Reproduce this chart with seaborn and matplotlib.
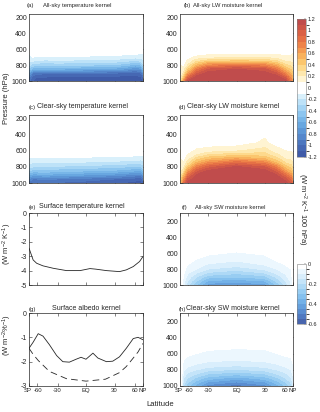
"""Zonal-mean radiative kernels: pressure-latitude sections and surface kernels."""
import numpy as np
import pandas as pd
import seaborn as sns
import matplotlib
matplotlib.use("Agg")
import matplotlib.pyplot as plt
from matplotlib.colors import ListedColormap, BoundaryNorm
from matplotlib.cm import ScalarMappable
from matplotlib.transforms import ScaledTranslation

nan = np.nan

# latitude nodes and pressure levels of the kernel tables
lat = [-90, -80, -70, -60, -45, -30, 0, 30, 45, 60, 75, 90]
plev = [1000, 950, 900, 850, 800, 750, 700, 650, 600, 500, 150]

# one profile (1000 -> 150 hPa) per latitude node, W m-2 K-1 100hPa-1
t_all = [
    [nan, nan, -0.9, -0.6, -0.45, -0.35, -0.28, -0.2, -0.14, -0.05, 0],
    [-1.0, -0.9, -0.7, -0.45, -0.3, -0.2, -0.13, -0.08, -0.05, -0.02, 0],
    [-1.1, -1.05, -0.9, -0.55, -0.35, -0.2, -0.1, -0.05, -0.03, -0.01, 0],
    [-1.15, -1.1, -0.95, -0.6, -0.38, -0.22, -0.11, -0.05, -0.03, -0.01, 0],
    [-1.15, -1.1, -0.98, -0.6, -0.4, -0.24, -0.12, -0.05, -0.03, -0.01, 0],
    [-1.15, -1.12, -0.98, -0.6, -0.38, -0.22, -0.11, -0.05, -0.03, -0.01, 0],
    [-1.15, -1.12, -0.98, -0.62, -0.4, -0.25, -0.12, -0.05, -0.03, -0.01, 0],
    [-1.15, -1.12, -1.0, -0.65, -0.42, -0.26, -0.13, -0.06, -0.03, -0.01, 0],
    [-1.18, -1.15, -1.02, -0.72, -0.48, -0.3, -0.15, -0.07, -0.04, -0.01, 0],
    [-1.18, -1.15, -1.05, -0.8, -0.55, -0.33, -0.17, -0.08, -0.04, -0.02, 0],
    [-1.15, -1.1, -1.0, -0.75, -0.5, -0.3, -0.16, -0.09, -0.05, -0.02, 0],
    [-1.1, -1.0, -0.8, -0.55, -0.36, -0.24, -0.16, -0.11, -0.06, -0.02, 0],
]
t_clr = [
    [nan, nan, -0.85, -0.55, -0.4, -0.3, -0.24, -0.18, -0.12, -0.04, 0],
    [-0.95, -0.85, -0.6, -0.4, -0.27, -0.18, -0.12, -0.07, -0.04, -0.01, 0],
    [-1.0, -0.9, -0.65, -0.45, -0.3, -0.2, -0.12, -0.06, -0.03, -0.01, 0],
    [-1.0, -0.9, -0.65, -0.45, -0.32, -0.2, -0.12, -0.06, -0.03, -0.01, 0],
    [-1.0, -0.88, -0.62, -0.44, -0.3, -0.2, -0.12, -0.06, -0.03, -0.01, 0],
    [-1.02, -0.9, -0.66, -0.47, -0.32, -0.2, -0.12, -0.06, -0.03, -0.01, 0],
    [-1.05, -0.95, -0.7, -0.5, -0.35, -0.22, -0.13, -0.06, -0.03, -0.01, 0],
    [-1.1, -1.0, -0.75, -0.53, -0.37, -0.24, -0.14, -0.07, -0.03, -0.01, 0],
    [-1.12, -1.02, -0.8, -0.57, -0.4, -0.26, -0.15, -0.07, -0.04, -0.01, 0],
    [-1.15, -1.05, -0.85, -0.6, -0.42, -0.28, -0.16, -0.08, -0.04, -0.02, 0],
    [-1.15, -1.05, -0.85, -0.6, -0.42, -0.28, -0.17, -0.09, -0.05, -0.02, 0],
    [-1.05, -0.95, -0.75, -0.5, -0.35, -0.24, -0.16, -0.1, -0.06, -0.02, 0],
]
q_lw_all = [
    [nan, nan, 0.2, 0.18, 0.17, 0.16, 0.15, 0.13, 0.12, 0.11, 0],
    [0.3, 0.2, 0.15, 0.12, 0.1, 0.08, 0.06, 0.05, 0.04, 0.02, 0],
    [0.6, 0.35, 0.2, 0.12, 0.07, 0.04, 0.02, 0.01, 0, 0, 0],
    [1.1, 0.85, 0.55, 0.35, 0.2, 0.12, 0.07, 0.03, 0.01, 0, 0],
    [1.2, 1.15, 0.95, 0.75, 0.5, 0.28, 0.12, 0.05, 0.02, 0, 0],
    [1.2, 1.2, 1.15, 1.0, 0.7, 0.38, 0.15, 0.07, 0.03, 0.01, 0],
    [1.2, 1.2, 1.2, 1.1, 0.8, 0.42, 0.17, 0.07, 0.03, 0.02, 0],
    [1.2, 1.2, 1.15, 1.02, 0.72, 0.4, 0.18, 0.08, 0.04, 0.01, 0],
    [1.2, 1.18, 1.0, 0.8, 0.55, 0.32, 0.15, 0.08, 0.04, 0.01, 0],
    [1.15, 0.95, 0.7, 0.5, 0.33, 0.2, 0.12, 0.07, 0.04, 0.01, 0],
    [0.75, 0.65, 0.5, 0.38, 0.27, 0.18, 0.12, 0.08, 0.05, 0.02, 0],
    [0.5, 0.45, 0.38, 0.3, 0.22, 0.16, 0.12, 0.1, 0.08, 0.03, 0],
]
q_lw_clr = [
    [nan, nan, 0.3, 0.25, 0.2, 0.17, 0.15, 0.13, 0.11, 0.06, 0],
    [0.45, 0.35, 0.25, 0.2, 0.15, 0.12, 0.1, 0.08, 0.06, 0.03, 0],
    [0.8, 0.6, 0.4, 0.25, 0.15, 0.1, 0.06, 0.04, 0.02, 0, 0],
    [1.15, 1.0, 0.8, 0.6, 0.4, 0.25, 0.15, 0.1, 0.06, 0.02, 0],
    [1.2, 1.2, 1.12, 0.95, 0.75, 0.52, 0.35, 0.2, 0.12, 0.03, 0],
    [1.2, 1.2, 1.2, 1.12, 0.95, 0.7, 0.48, 0.3, 0.15, 0.04, 0],
    [1.2, 1.2, 1.2, 1.2, 1.12, 0.88, 0.6, 0.37, 0.19, 0.04, 0],
    [1.2, 1.2, 1.2, 1.15, 1.0, 0.75, 0.5, 0.35, 0.25, 0.12, 0],
    [1.2, 1.2, 1.1, 0.95, 0.75, 0.5, 0.35, 0.22, 0.15, 0.05, 0],
    [1.15, 1.05, 0.85, 0.62, 0.45, 0.3, 0.2, 0.15, 0.1, 0.03, 0],
    [1.0, 0.85, 0.65, 0.48, 0.35, 0.25, 0.18, 0.13, 0.09, 0.03, 0],
    [0.7, 0.6, 0.47, 0.35, 0.26, 0.19, 0.14, 0.11, 0.07, 0.02, 0],
]
q_sw_all = [
    [nan, nan, 0, 0, 0, 0, 0, 0, 0, 0, 0],
    [-0.02, -0.015, -0.01, -0.01, 0, 0, 0, 0, 0, 0, 0],
    [-0.08, -0.07, -0.05, -0.04, -0.03, -0.02, -0.01, 0, 0, 0, 0],
    [-0.18, -0.15, -0.12, -0.09, -0.07, -0.05, -0.03, -0.02, -0.01, 0, 0],
    [-0.3, -0.25, -0.2, -0.15, -0.1, -0.08, -0.06, -0.04, -0.02, 0, 0],
    [-0.43, -0.36, -0.28, -0.21, -0.15, -0.11, -0.08, -0.06, -0.04, -0.01, 0],
    [-0.45, -0.38, -0.3, -0.24, -0.18, -0.13, -0.1, -0.07, -0.055, -0.02, 0],
    [-0.42, -0.35, -0.27, -0.2, -0.14, -0.1, -0.08, -0.06, -0.04, -0.01, 0],
    [-0.3, -0.24, -0.19, -0.14, -0.1, -0.07, -0.05, -0.03, -0.02, 0, 0],
    [-0.18, -0.15, -0.12, -0.09, -0.07, -0.05, -0.04, -0.03, -0.01, 0, 0],
    [-0.1, -0.09, -0.07, -0.06, -0.05, -0.04, -0.02, -0.01, 0, 0, 0],
    [-0.05, -0.04, -0.03, -0.02, -0.01, 0, 0, 0, 0, 0, 0],
]
q_sw_clr = [
    [nan, nan, 0, 0, 0, 0, 0, 0, 0, 0, 0],
    [0, 0, 0, 0, 0, 0, 0, 0, 0, 0, 0],
    [-0.2, -0.17, -0.14, -0.11, -0.09, -0.07, -0.055, -0.04, -0.03, -0.01, 0],
    [-0.28, -0.24, -0.2, -0.16, -0.12, -0.09, -0.07, -0.055, -0.04, -0.02, 0],
    [-0.38, -0.32, -0.26, -0.2, -0.15, -0.11, -0.085, -0.065, -0.05, -0.03, 0],
    [-0.48, -0.4, -0.32, -0.25, -0.18, -0.13, -0.1, -0.075, -0.06, -0.035, 0],
    [-0.53, -0.45, -0.37, -0.28, -0.21, -0.15, -0.11, -0.08, -0.065, -0.04, 0],
    [-0.47, -0.4, -0.32, -0.25, -0.18, -0.13, -0.1, -0.08, -0.065, -0.035, 0],
    [-0.38, -0.32, -0.26, -0.2, -0.15, -0.11, -0.085, -0.065, -0.05, -0.025, 0],
    [-0.3, -0.25, -0.2, -0.16, -0.12, -0.09, -0.07, -0.055, -0.04, -0.02, 0],
    [-0.22, -0.19, -0.15, -0.12, -0.1, -0.08, -0.06, -0.05, -0.035, -0.015, 0],
    [-0.15, -0.13, -0.11, -0.09, -0.07, -0.055, -0.045, -0.035, -0.025, -0.01, 0],
]

# surface temperature kernel (W m-2 K-1)
sfc_lat = [-90, -68, -60, -49, -35, -20, -6, -1, 4, 10, 21, 36, 45, 56, 70, 90]
sfc_t = [-2.44, -3.26, -3.49, -3.67, -3.84, -4.0, -4.0, -3.93, -3.86, -3.9,
         -4.0, -4.07, -3.95, -3.72, -3.37, -3.02]

# surface albedo kernel (W m-2 %-1), all-sky solid, clear-sky dashed
alb_lat = [-90, -68, -57, -49, -40, -31, -24, -17, -10, -5, 0, 7, 12, 21, 28,
           36, 45, 56, 66, 90]
alb_all = [-1.45, -1.2, -0.85, -0.95, -1.3, -1.75, -2.0, -2.02, -1.9, -1.82,
           -1.9, -1.65, -1.85, -2.0, -1.98, -1.8, -1.45, -1.05, -1.0, -1.1]
alb_clr_lat = [-90, -68, -57, -40, -20, 0, 20, 36, 45, 56, 66, 90]
alb_clr = [-1.45, -1.7, -1.95, -2.4, -2.7, -2.8, -2.72, -2.45, -2.2, -1.85,
           -1.6, -1.25]

lat_ticks = [-90, -60, -30, 0, 30, 60, 90]
lat_labels = ["SP", "-60", "-30", "EQ", "30", "60", "NP"]
lw_ticks = [-1.2, -1, -0.8, -0.6, -0.4, -0.2, 0, 0.2, 0.4, 0.6, 0.8, 1, 1.2]
lw_ticklabels = ["-1.2", "-1", "-0.8", "-0.6", "-0.4", "-0.2", "0", "0.2",
                 "0.4", "0.6", "0.8", "1", "1.2"]
sw_ticks = [-0.6, -0.4, -0.2, 0]
sw_ticklabels = ["-0.6", "-0.4", "-0.2", "0"]

lw_colors = ["#3f5ba8", "#4668b3", "#4d77bf", "#5587cb", "#5d97d6", "#68a7e0",
             "#78b6e8", "#8cc5ef", "#a4d4f4", "#bde2f8", "#d9f0fb", "#ffffff",
             "#ffffff", "#fff4d2", "#fee8ae", "#fdd98c", "#fbc66e", "#f8b15c",
             "#f49a51", "#ee8349", "#e57045", "#da6145", "#cd5548", "#c04c4c"]
sw_colors = ["#4865ad", "#5079c0", "#5a8dd0", "#65a0dd", "#73b1e7", "#84c0ee",
             "#98cdf2", "#aed9f6", "#c4e4f9", "#d9eefc", "#ecf7fe", "#ffffff"]

W, H = 320, 412
INK = "#262626"

sns.set_style("ticks")
plt.rcParams["font.family"] = ["Liberation Sans", "DejaVu Sans"]
plt.rcParams["axes.unicode_minus"] = False
plt.rcParams["mathtext.fontset"] = "custom"
plt.rcParams["mathtext.rm"] = "Liberation Sans"
plt.rcParams["mathtext.it"] = "Liberation Sans:italic"

lw_levels = np.round(np.linspace(-1.2, 1.2, 25), 3)
sw_levels = np.round(np.linspace(-0.6, 0, 13), 3)
lw_cmap = ListedColormap(lw_colors)
sw_cmap = ListedColormap(sw_colors)

fig = plt.figure(figsize=(W / 100, H / 100), dpi=100)


def px_axes(x0, y0, x1, y1):
    return fig.add_axes([x0 / W, 1 - y1 / H, (x1 - x0) / W, (y1 - y0) / H])


def style(ax, bottom_labels):
    for s in ax.spines.values():
        s.set_linewidth(0.5)
        s.set_color(INK)
    ax.tick_params(direction="in", length=2, width=0.4, colors=INK,
                   top=True, right=True, labelsize=5, pad=1.5)
    ax.tick_params(axis="x", labelsize=4.3)
    ax.set_xlim(-1, 1)
    ax.set_xticks(np.sin(np.deg2rad(lat_ticks)))
    if bottom_labels:
        ax.set_xticklabels(lat_labels)
        # SP and -60 sit close together; nudge them apart a little
        labels = ax.get_xticklabels()
        for lab, dx in [(labels[0], -1.8), (labels[1], 1.2)]:
            lab.set_transform(lab.get_transform()
                              + ScaledTranslation(dx / 100, 0,
                                                  fig.dpi_scale_trans))
    else:
        ax.set_xticklabels([])
    ax.set_xlabel("")
    ax.set_ylabel("")


def title(ax, tag, text, tag_x, text_x, gap, size):
    ax.annotate(tag, xy=(tag_x, 1), xycoords="axes fraction",
                xytext=(0, gap - 1), textcoords="offset pixels", ha="left",
                va="center", fontsize=4.3, color=INK)
    ax.annotate(text, xy=(text_x, 1), xycoords="axes fraction",
                xytext=(0, gap), textcoords="offset pixels", ha="center",
                va="center", fontsize=size, color=INK)


def kernel(ax, field, levels, cmap, ptop):
    z = np.array(field, dtype=float).T
    ax.contourf(np.sin(np.deg2rad(lat)), plev, z, levels=levels, cmap=cmap,
                extend="both")
    ax.set_ylim(1000, ptop)
    ax.set_yticks([200, 400, 600, 800, 1000])


LX, RX = (29, 143), (180, 293)
rows = [(14, 81), (115, 183), (213, 285), (313, 386)]

ax_a = px_axes(LX[0], rows[0][0], LX[1], rows[0][1])
ax_b = px_axes(RX[0], rows[0][0], RX[1], rows[0][1])
ax_c = px_axes(LX[0], rows[1][0], LX[1], rows[1][1])
ax_d = px_axes(RX[0], rows[1][0], RX[1], rows[1][1])
ax_e = px_axes(LX[0], rows[2][0], LX[1], rows[2][1])
ax_f = px_axes(RX[0], rows[2][0], RX[1], rows[2][1])
ax_g = px_axes(LX[0], rows[3][0], LX[1], rows[3][1])
ax_h = px_axes(RX[0], rows[3][0], RX[1], rows[3][1])

kernel(ax_a, t_all, lw_levels, lw_cmap, 155)
kernel(ax_b, q_lw_all, lw_levels, lw_cmap, 155)
kernel(ax_c, t_clr, lw_levels, lw_cmap, 155)
kernel(ax_d, q_lw_clr, lw_levels, lw_cmap, 155)
kernel(ax_f, q_sw_all, sw_levels, sw_cmap, 100)
kernel(ax_h, q_sw_clr, sw_levels, sw_cmap, 100)

sfc = pd.DataFrame({"x": np.sin(np.deg2rad(sfc_lat)), "k": sfc_t})
sns.lineplot(data=sfc, x="x", y="k", ax=ax_e, color=INK, lw=0.6,
             estimator=None)
ax_e.set_ylim(-5, 0)
ax_e.set_yticks([0, -1, -2, -3, -4, -5])

alb1 = pd.DataFrame({"x": np.sin(np.deg2rad(alb_lat)), "k": alb_all})
alb2 = pd.DataFrame({"x": np.sin(np.deg2rad(alb_clr_lat)), "k": alb_clr})
sns.lineplot(data=alb1, x="x", y="k", ax=ax_g, color=INK, lw=0.6,
             estimator=None)
sns.lineplot(data=alb2, x="x", y="k", ax=ax_g, color=INK, lw=0.6,
             estimator=None, linestyle=(0, (8, 5)))
ax_g.set_ylim(-3, 0)
ax_g.set_yticks([0, -1, -2, -3])

for ax in [ax_a, ax_b, ax_c, ax_d, ax_e, ax_f]:
    style(ax, False)
for ax in [ax_g, ax_h]:
    style(ax, True)

title(ax_a, "(a)", "All-sky temperature kernel", -0.02, 0.42, 9, 4.2)
title(ax_b, "(b)", "All-sky LW moisture kernel", 0.03, 0.42, 9, 4.2)
title(ax_c, "(c)", "Clear-sky temperature kernel", 0.0, 0.47, 9, 5)
title(ax_d, "(d)", "Clear-sky LW moisture kernel", -0.01, 0.47, 9, 5)
title(ax_e, "(e)", "Surface temperature kernel", 0.0, 0.46, 6, 5)
title(ax_f, "(f)", "All-sky SW moisture kernel", 0.01, 0.44, 6, 4.2)
title(ax_g, "(g)", "Surface albedo kernel", 0.0, 0.5, 4, 5)
title(ax_h, "(h)", "Clear-sky SW moisture kernel", -0.01, 0.47, 4, 5)

# colorbars
for (y0, y1), levels, cmap, ticks, labels in [
        ((19, 157), lw_levels, lw_cmap, lw_ticks, lw_ticklabels),
        ((264, 324), sw_levels, sw_cmap, sw_ticks, sw_ticklabels)]:
    cax = px_axes(297, y0, 306, y1)
    sm = ScalarMappable(norm=BoundaryNorm(levels, cmap.N), cmap=cmap)
    cb = fig.colorbar(sm, cax=cax, ticks=ticks)
    cb.set_ticklabels(labels)
    cb.outline.set_linewidth(0.4)
    cb.outline.set_edgecolor("#808080")
    cax.tick_params(direction="in", length=1.5, width=0.3, labelsize=4,
                    colors=INK, pad=1.5)

fig.text(302 / W, 1 - 209 / H, r"(W m$^{-2}$ K$^{-1}$ 100 hPa)", rotation=-90,
         ha="center", va="center", fontsize=5.5, color=INK)
fig.text(7 / W, 1 - 98 / H, "Pressure (hPa)", rotation=90, ha="center",
         va="center", fontsize=5.5, color=INK)
fig.text(7 / W, 1 - 244 / H, r"(W m$^{-2}$ K$^{-1}$)", rotation=90,
         ha="center", va="center", fontsize=5.5, color=INK)
fig.text(7 / W, 1 - 335 / H, r"(W m$^{-2}$%$^{-1}$)", rotation=90,
         ha="center", va="center", fontsize=5.5, color=INK)
fig.text(160 / W, 1 - 405 / H, "Latitude", ha="center", va="center",
         fontsize=5.5, color=INK)

fig.savefig("out.png", dpi=100)
